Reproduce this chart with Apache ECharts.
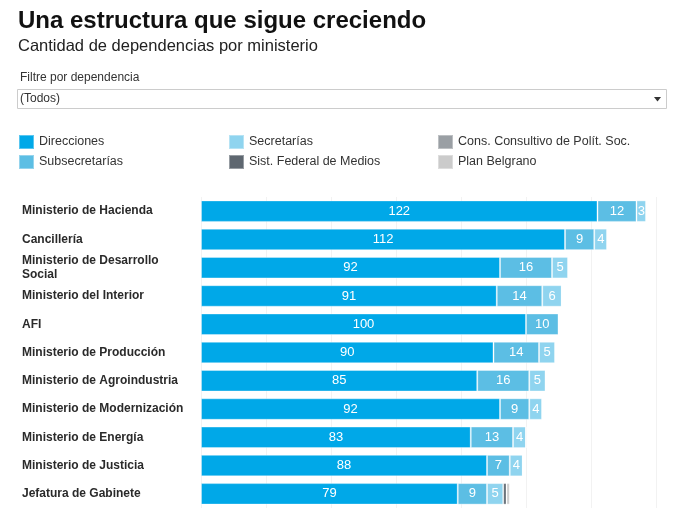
<!DOCTYPE html>
<html>
<head>
<meta charset="utf-8">
<script src="https://cdn.jsdelivr.net/npm/echarts@6/dist/echarts.min.js"></script>
<style>
  html, body { margin: 0; padding: 0; background: #fff; }
  #chart { width: 700px; height: 529px; }
</style>
</head>
<body>
<div id="chart"></div>
<script>
const categories = [
  "Ministerio de Hacienda",
  "Cancillería",
  "Ministerio de Desarrollo\nSocial",
  "Ministerio del Interior",
  "AFI",
  "Ministerio de Producción",
  "Ministerio de Agroindustria",
  "Ministerio de Modernización",
  "Ministerio de Energía",
  "Ministerio de Justicia",
  "Jefatura de Gabinete"
];
const direcciones     = [122, 112, 92, 91, 100, 90, 85, 92, 83, 88, 79];
const subsecretarias  = [12, 9, 16, 14, 10, 14, 16, 9, 13, 7, 9];
const secretarias     = [3, 4, 5, 6, 0, 5, 5, 4, 4, 4, 5];
const sistFederal     = [0, 0, 0, 0, 0, 0, 0, 0, 0, 0, 1];
const consConsultivo  = [0, 0, 0, 0, 0, 0, 0, 0, 0, 0, 0];
const planBelgrano    = [0, 0, 0, 0, 0, 0, 0, 0, 0, 0, 1];
const seriesNames = ["Direcciones", "Subsecretarías", "Secretarías", "Sist. Federal de Medios", "Cons. Consultivo de Polít. Soc.", "Plan Belgrano"];
const seriesData = [direcciones, subsecretarias, secretarias, sistFederal, consConsultivo, planBelgrano];
const colors = ["#00a8e8", "#5cbee4", "#8fd4ef", "#5e6770", "#9a9fa4", "#cbcbcb"];
const labeled = [true, true, true, false, false, false];

const chart = echarts.init(document.getElementById('chart'), null, { renderer: 'canvas' });
const font = 'Arial, "Liberation Sans", sans-serif';

const series = seriesNames.map((name, i) => ({
  name: name,
  type: 'bar',
  stack: 'total',
  barWidth: '76%',
  data: seriesData[i],
  itemStyle: { color: colors[i], borderColor: 'rgba(255,255,255,0.35)', borderWidth: 1 },
  label: {
    show: labeled[i],
    position: 'inside',
    color: '#fff',
    fontSize: 13,
    fontFamily: font,
    formatter: p => (p.value >= 2 ? p.value : '')
  },
  emphasis: { disabled: true }
}));

const legendBase = {
  orient: 'vertical',
  top: 134,
  padding: 0,
  itemWidth: 15,
  itemHeight: 14,
  itemGap: 4,
  icon: 'rect',
  selectedMode: false,
  textStyle: { fontSize: 12.5, color: '#333', fontFamily: font }
};

chart.setOption({
  animation: false,
  color: colors,
  title: [
    { text: 'Una estructura que sigue creciendo', left: 18, top: 9, padding: 0,
      textStyle: { fontSize: 24, fontWeight: 'bold', color: '#111', fontFamily: font } },
    { text: 'Cantidad de dependencias por ministerio', left: 18, top: 38, padding: 0,
      textStyle: { fontSize: 16.5, fontWeight: 'normal', color: '#222', fontFamily: font } },
    { text: 'Filtre por dependencia', left: 20, top: 72, padding: 0,
      textStyle: { fontSize: 12, fontWeight: 'normal', color: '#333', fontFamily: font } }
  ],
  legend: [
    Object.assign({}, legendBase, { left: 18, data: [seriesNames[0], seriesNames[1]] }),
    Object.assign({}, legendBase, { left: 228, data: [seriesNames[2], seriesNames[3]] }),
    Object.assign({}, legendBase, { left: 437, data: [seriesNames[4], seriesNames[5]] })
  ],
  graphic: [
    { type: 'rect', shape: { x: 17.5, y: 89.5, width: 649, height: 19 },
      style: { fill: '#fff', stroke: '#cccccc', lineWidth: 1 } },
    { type: 'text', x: 20, y: 99, style: { text: '(Todos)', fontSize: 12, fill: '#333',
      fontFamily: font, verticalAlign: 'middle' } },
    { type: 'polygon', shape: { points: [[654, 97], [661, 97], [657.5, 101.5]] },
      style: { fill: '#333' } }
  ],
  grid: { left: 201, right: 44, top: 197, bottom: 21, containLabel: false },
  xAxis: {
    type: 'value', min: 0, max: 140, interval: 20,
    axisLabel: { show: false }, axisLine: { show: false }, axisTick: { show: false },
    splitLine: { show: true, lineStyle: { color: '#f2f2f2', width: 1 } }
  },
  yAxis: {
    type: 'category', data: categories, inverse: true,
    axisLine: { show: false }, axisTick: { show: false },
    axisLabel: {
      align: 'left', margin: 179, fontSize: 12, fontWeight: 'bold', color: '#2a2a2a',
      fontFamily: font, lineHeight: 14
    }
  },
  series: series
});
</script>
</body>
</html>
